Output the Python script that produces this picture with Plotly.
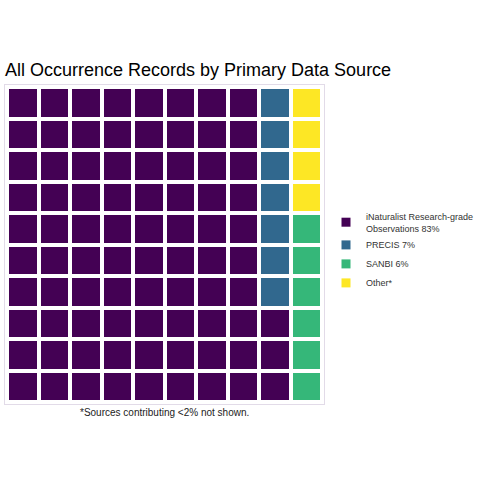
import plotly.graph_objects as go

categories = ["iNaturalist Research-grade<br>Observations 83%", "PRECIS 7%", "SANBI 6%", "Other*"]
counts = [83, 7, 6, 4]
colors = ["#440154", "#31688E", "#35B779", "#FDE725"]
n_rows = 10
n_cols = 10

# build waffle grid: fill column by column, bottom to top
cells = []
for i, c in enumerate(counts):
    cells += [i] * c
z = [[None] * n_cols for _ in range(n_rows)]
for k, v in enumerate(cells):
    col = k // n_rows
    row = k % n_rows
    z[row][col] = v

n = len(colors)
colorscale = []
for i, c in enumerate(colors):
    colorscale.append([i / n, c])
    colorscale.append([(i + 1) / n, c])

pad = 0.0625

fig = go.Figure()
fig.add_trace(go.Heatmap(
    z=z, x=list(range(n_cols)), y=list(range(n_rows)),
    zmin=-0.5, zmax=n - 0.5, colorscale=colorscale, showscale=False,
    xgap=4, ygap=4, hoverinfo="skip", showlegend=False,
))
for name, c in zip(categories, colors):
    fig.add_trace(go.Scatter(
        x=[None], y=[None], mode="markers", name=name,
        marker=dict(symbol="square", size=9, color=c),
    ))

fig.update_layout(
    width=480, height=480,
    margin=dict(l=5, r=156, t=85, b=76, autoexpand=False),
    paper_bgcolor="white", plot_bgcolor="white",
    font=dict(family="Liberation Sans, Arial, sans-serif", color="#222"),
    title=dict(text="All Occurrence Records by Primary Data Source",
               x=0, xref="paper", xanchor="left",
               y=1 - 70 / 480, yanchor="middle",
               font=dict(size=18, color="black")),
    xaxis=dict(range=[-0.5 - pad, n_cols - 0.5 + pad], showgrid=False, zeroline=False,
               showticklabels=False, ticks="", showline=True, mirror=True,
               linecolor="#e2dbe8", linewidth=1),
    yaxis=dict(range=[-0.5 - pad, n_rows - 0.5 + pad], showgrid=False, zeroline=False,
               showticklabels=False, ticks="", showline=True, mirror=True,
               linecolor="#e2dbe8", linewidth=1),
    legend=dict(x=(326 - 5) / 319, xanchor="left", y=(404 - 251) / 319, yanchor="middle",
                font=dict(size=9, color="#333"), itemwidth=30,
                tracegroupgap=0, bgcolor="rgba(0,0,0,0)"),
    showlegend=True,
    annotations=[dict(text="*Sources contributing <2% not shown.",
                      x=0.5, xref="paper", y=0, yref="paper",
                      xanchor="center", yanchor="top", yshift=-1,
                      showarrow=False, font=dict(size=10, color="#222"))],
)

fig.write_html("out.html", config={"displayModeBar": False},
               post_script="document.body.style.margin='0';")
